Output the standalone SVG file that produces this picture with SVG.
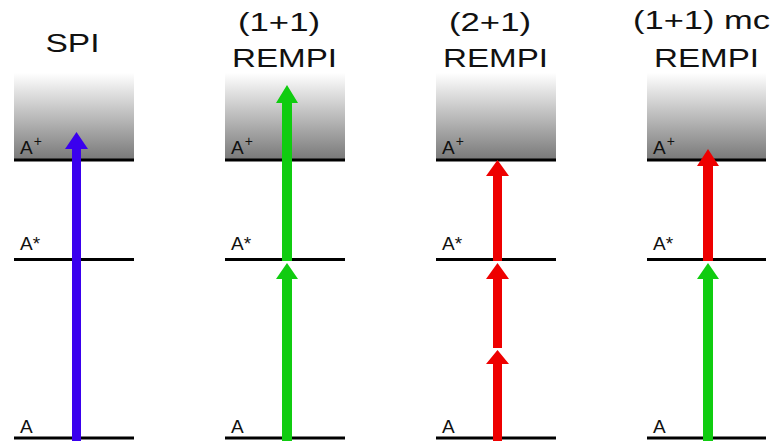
<svg xmlns="http://www.w3.org/2000/svg" width="775" height="441" viewBox="0 0 775 441">
<defs>
<linearGradient id="cont" x1="0" y1="0" x2="0" y2="1">
<stop offset="0" stop-color="#ffffff"/>
<stop offset="1" stop-color="#787878"/>
</linearGradient>
</defs>
<style>
.title{font-family:"Liberation Sans",Arial,sans-serif;font-size:25px;fill:#111;text-anchor:middle}
.lbl{font-family:"Liberation Sans",Arial,sans-serif;font-size:19px;fill:#111}
.sup{font-size:14px}
.lvl{stroke:#000;stroke-width:3}
.blue{fill:#3a00ee}
.green{fill:#10cc10}
.red{fill:#ee0000}
</style>
<rect width="775" height="441" fill="#fff"/>

<g id="titles">
<text class="title" x="72.5" y="52" textLength="54" lengthAdjust="spacingAndGlyphs">SPI</text>
<text class="title" x="279" y="31" textLength="82" lengthAdjust="spacingAndGlyphs">(1+1)</text>
<text class="title" x="284.5" y="67" textLength="105" lengthAdjust="spacingAndGlyphs">REMPI</text>
<text class="title" x="490" y="31" textLength="82" lengthAdjust="spacingAndGlyphs">(2+1)</text>
<text class="title" x="495.5" y="67" textLength="105" lengthAdjust="spacingAndGlyphs">REMPI</text>
<text class="title" x="701.5" y="29" textLength="137" lengthAdjust="spacingAndGlyphs">(1+1) mc</text>
<text class="title" x="706.5" y="67" textLength="105" lengthAdjust="spacingAndGlyphs">REMPI</text>
</g>

<g id="panel-spi">
<rect x="14" y="73" width="120" height="87" fill="url(#cont)"/>
<line class="lvl" x1="14" y1="160" x2="134" y2="160"/>
<line class="lvl" x1="14" y1="259.5" x2="134" y2="259.5"/>
<line class="lvl" x1="14" y1="438" x2="134" y2="438"/>
<text class="lbl" x="20" y="154">A<tspan class="sup" dx="1" dy="-8">+</tspan></text>
<text class="lbl" x="20" y="250">A*</text>
<text class="lbl" x="20" y="433">A</text>
</g>

<g id="panel-11">
<rect x="225" y="73" width="120" height="87" fill="url(#cont)"/>
<line class="lvl" x1="225" y1="160" x2="345" y2="160"/>
<line class="lvl" x1="225" y1="259.5" x2="345" y2="259.5"/>
<line class="lvl" x1="225" y1="438" x2="345" y2="438"/>
<text class="lbl" x="231" y="154">A<tspan class="sup" dx="1" dy="-8">+</tspan></text>
<text class="lbl" x="231" y="250">A*</text>
<text class="lbl" x="231" y="433">A</text>
</g>

<g id="panel-21">
<rect x="436" y="73" width="120" height="87" fill="url(#cont)"/>
<line class="lvl" x1="436" y1="160" x2="556" y2="160"/>
<line class="lvl" x1="436" y1="259.5" x2="556" y2="259.5"/>
<line class="lvl" x1="436" y1="438" x2="556" y2="438"/>
<text class="lbl" x="442" y="154">A<tspan class="sup" dx="1" dy="-8">+</tspan></text>
<text class="lbl" x="442" y="250">A*</text>
<text class="lbl" x="442" y="433">A</text>
</g>

<g id="panel-11mc">
<rect x="647" y="73" width="119" height="87" fill="url(#cont)"/>
<line class="lvl" x1="647" y1="160" x2="766" y2="160"/>
<line class="lvl" x1="647" y1="259.5" x2="766" y2="259.5"/>
<line class="lvl" x1="647" y1="438" x2="766" y2="438"/>
<text class="lbl" x="653" y="154">A<tspan class="sup" dx="1" dy="-8">+</tspan></text>
<text class="lbl" x="653" y="250">A*</text>
<text class="lbl" x="653" y="433">A</text>
</g>

<g id="connectors">
<polygon class="blue" points="72,441 72,149 65,149 76.5,132 88,149 81,149 81,441"/>

<polygon class="green" points="282,441 282,279 276,279 287,263 298,279 292,279 292,441"/>
<polygon class="green" points="282,261 282,103 276,103 287,85 298,103 292,103 292,261"/>

<polygon class="red" points="493,441 493,364 486,364 497.5,350 509,364 502,364 502,441"/>
<polygon class="red" points="493,348 493,279 486,279 497.5,263 509,279 502,279 502,348"/>
<polygon class="red" points="493,261 493,176 486,176 497.5,160 509,176 502,176 502,261"/>

<polygon class="green" points="703,441 703,279 697,279 708,263 719,279 713,279 713,441"/>
<polygon class="red" points="703,261 703,166 697,166 708,149 719,166 713,166 713,261"/>
</g>
</svg>
